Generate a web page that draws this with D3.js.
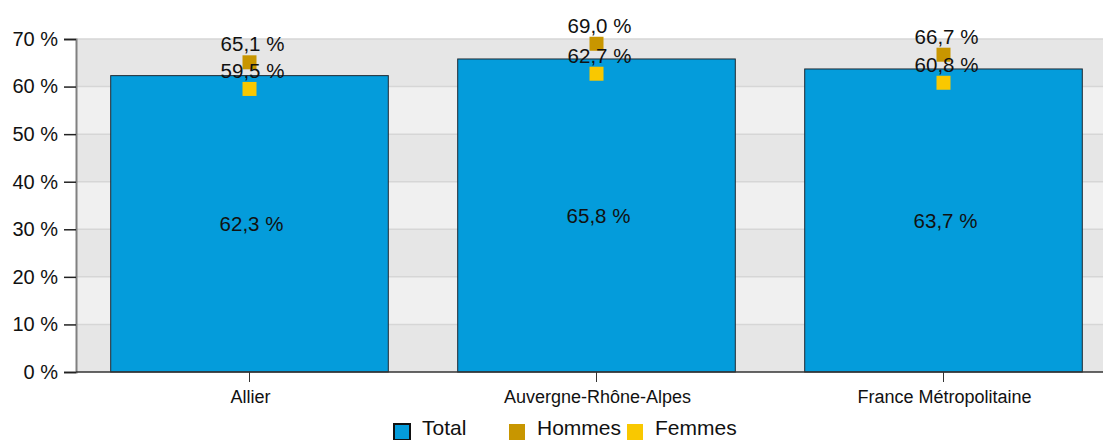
<!DOCTYPE html>
<html>
<head>
<meta charset="utf-8">
<script src="https://cdn.jsdelivr.net/npm/d3@7"></script>
<style>
  body { margin: 0; background: #fff; }
  svg { display: block; font-family: "Liberation Sans", Arial, sans-serif; }
</style>
</head>
<body>
<div id="chart-container"></div>
<script>
const width = 1103;
const height = 440;

// data
const categories = ["Allier", "Auvergne-Rhône-Alpes", "France Métropolitaine"];
const total = [62.3, 65.8, 63.7];
const hommes = [65.1, 69.0, 66.7];
const femmes = [59.5, 62.7, 60.8];
const yTicks = [0, 10, 20, 30, 40, 50, 60, 70];

const fmt = v => v.toFixed(1).replace(".", ",") + " %";

const svg = d3.select("#chart-container")
    .append("svg")
    .attr("width", width)
    .attr("height", height);

const x = d3.scaleBand()
    .domain(categories)
    .range([76, 1117])
    .paddingInner(0.2)
    .paddingOuter(0.1);

const y = d3.scaleLinear()
    .domain([0, 70])
    .range([372, 39]);

// alternating background bands
svg.append("g").selectAll("rect")
    .data(yTicks.slice(0, -1))
    .enter().append("rect")
    .attr("x", 76)
    .attr("width", width - 76)
    .attr("y", d => y(d + 10))
    .attr("height", d => y(d) - y(d + 10))
    .attr("fill", (d, i) => i % 2 === 0 ? "#e6e6e6" : "#f0f0f0");

// grid lines
svg.append("g").selectAll("line")
    .data(yTicks.slice(1))
    .enter().append("line")
    .attr("x1", 76).attr("x2", width)
    .attr("y1", d => y(d)).attr("y2", d => y(d))
    .attr("stroke", "#d6d6d6")
    .attr("stroke-width", 1.5);

// bars
svg.append("g").selectAll("rect")
    .data(categories)
    .enter().append("rect")
    .attr("x", d => x(d))
    .attr("width", x.bandwidth())
    .attr("y", (d, i) => y(total[i]))
    .attr("height", (d, i) => y(0) - y(total[i]))
    .attr("fill", "#049cdb")
    .attr("stroke", "#1e2a33")
    .attr("stroke-width", 1);

// total labels
svg.append("g").selectAll("text")
    .data(categories)
    .enter().append("text")
    .attr("x", d => x(d) + x.bandwidth() / 2 + 2)
    .attr("y", (d, i) => (y(total[i]) + y(0)) / 2 + 7.5)
    .attr("text-anchor", "middle")
    .attr("font-size", 20.5)
    .attr("fill", "#111")
    .text((d, i) => fmt(total[i]));

// y axis
const yAxis = d3.axisLeft(y)
    .tickValues(yTicks)
    .tickSize(12)
    .tickPadding(6)
    .tickFormat(d => d + " %");

const yg = svg.append("g")
    .attr("transform", "translate(76,0)")
    .call(yAxis);
yg.select(".domain").attr("stroke", "#808080").attr("stroke-width", 2);
yg.selectAll(".tick line").attr("stroke", "#222").attr("stroke-width", 1.5);
yg.selectAll(".tick text")
    .attr("font-size", 20)
    .attr("font-family", "Liberation Sans, Arial, sans-serif")
    .attr("fill", "#111");

// x axis
const xAxis = d3.axisBottom(x).tickSize(10).tickPadding(6);
const xg = svg.append("g")
    .attr("transform", "translate(0,372)")
    .call(xAxis);
xg.select(".domain").attr("d", `M76,0H${width}`).attr("stroke", "#333").attr("stroke-width", 1.5);
xg.selectAll(".tick line").attr("stroke", "#333");
xg.selectAll(".tick text")
    .attr("font-size", 18)
    .attr("font-family", "Liberation Sans, Arial, sans-serif")
    .attr("fill", "#111")
    .attr("x", 1)
    .attr("y", 31)
    .attr("dy", null);

// markers
const series = [
    { name: "Hommes", values: hommes, color: "#c89600" },
    { name: "Femmes", values: femmes, color: "#f9c800" }
];
const sq = 14;
series.forEach(s => {
    svg.append("g").selectAll("rect")
        .data(categories)
        .enter().append("rect")
        .attr("x", d => x(d) + x.bandwidth() / 2 - sq / 2)
        .attr("y", (d, i) => y(s.values[i]) - sq / 2)
        .attr("width", sq)
        .attr("height", sq)
        .attr("fill", s.color);
});
series.forEach(s => {
    svg.append("g").selectAll("text")
        .data(categories)
        .enter().append("text")
        .attr("x", d => x(d) + x.bandwidth() / 2 + 3)
        .attr("y", (d, i) => y(s.values[i]) - 11)
        .attr("text-anchor", "middle")
        .attr("font-size", 20.5)
        .attr("fill", "#111")
        .text((d, i) => fmt(s.values[i]));
});

// legend
const legendItems = [
    { name: "Total", color: "#049cdb", stroke: "#111", x: 393 },
    { name: "Hommes", color: "#c89600", stroke: null, x: 508 },
    { name: "Femmes", color: "#f9c800", stroke: null, x: 626 }
];
const legend = svg.append("g");
legendItems.forEach(d => {
    legend.append("rect")
        .attr("x", d.x + 1)
        .attr("y", 424)
        .attr("width", 16)
        .attr("height", 16)
        .attr("fill", d.color)
        .attr("stroke", d.stroke || "none")
        .attr("stroke-width", 2);
    legend.append("text")
        .attr("x", d.x + 29)
        .attr("y", 435)
        .attr("font-size", 21)
        .attr("fill", "#111")
        .text(d.name);
});
</script>
</body>
</html>
